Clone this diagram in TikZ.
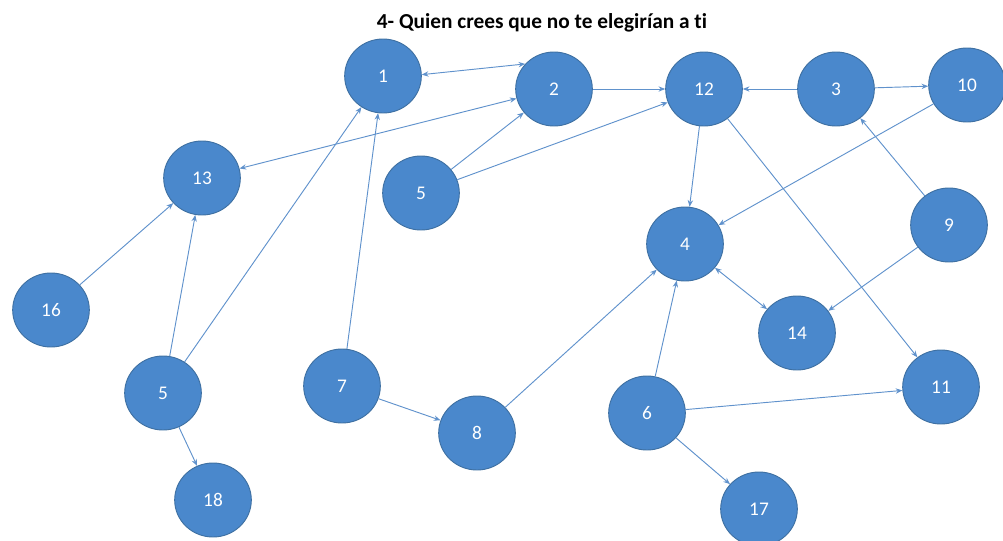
\documentclass[tikz,border=0pt]{standalone}
\usepackage{fontspec}
\setmainfont{Carlito}[RawFeature=-liga]
\usetikzlibrary{shapes.geometric,arrows.meta}
\definecolor{nodefill}{RGB}{74,136,204}
\definecolor{nodeborder}{RGB}{62,112,162}
\definecolor{edgecol}{RGB}{96,146,204}
\tikzset{
  vertex/.style={ellipse, fill=nodefill, draw=nodeborder, line width=0.7pt,
    minimum width=57.5pt, minimum height=55.5pt, inner sep=0pt,
    text=white, font=\fontsize{14.5}{14.5}\selectfont},
  link/.style={draw=edgecol, line width=0.7pt, -{Stealth[length=5pt,width=4pt]}},
  dlink/.style={draw=edgecol, line width=0.7pt, {Stealth[length=5pt,width=4pt]}-{Stealth[length=5pt,width=4pt]}},
  heading/.style={font=\fontsize{16}{16}\selectfont\bfseries, text=black, inner sep=0pt}
}
\begin{document}
\begin{tikzpicture}[x=0.75pt,y=-0.75pt]
\useasboundingbox (0,0) rectangle (1003,540);
\node[heading, anchor=base] (title) at (542,28) {4- Quien crees que no te elegirían a ti};
\node[vertex] (n1) at (383,76) {1};
\node[vertex] (n2) at (554,89) {2};
\node[vertex] (n12) at (704,89) {12};
\node[vertex] (n3) at (836,89) {3};
\node[vertex] (n10) at (967,85) {10};
\node[vertex] (n13) at (202,178) {13};
\node[vertex] (n5a) at (421,193) {5};
\node[vertex] (n4) at (685,244) {4};
\node[vertex] (n9) at (949,225) {9};
\node[vertex] (n16) at (51,310) {16};
\node[vertex] (n14) at (797,333) {14};
\node[vertex] (n5b) at (163,393) {5};
\node[vertex] (n7) at (342,386) {7};
\node[vertex] (n8) at (477,433) {8};
\node[vertex] (n6) at (647,413) {6};
\node[vertex] (n11) at (941,387) {11};
\node[vertex] (n18) at (213,500) {18};
\node[vertex] (n17) at (759,509) {17};
\draw[dlink] (n1.2) -- (n2.139);
\draw[dlink] (n13) -- (n2);
\draw[link] (n2) -- (n12);
\draw[link] (n5a) -- (n2);
\draw[link] (n5a) -- (n12);
\draw[link] (n3) -- (n12);
\draw[link] (n3) -- (n10);
\draw[link] (n12) -- (n4);
\draw[link] (n10) -- (n4);
\draw[link] (n9) -- (n3);
\draw[link] (n12) -- (n11);
\draw[link] (n9) -- (n14);
\draw[dlink] (n4) -- (n14);
\draw[link] (n6) -- (n4);
\draw[link] (n8) -- (n4);
\draw[link] (n7) -- (n8);
\draw[link] (n7) -- (n1);
\draw[link] (n5b) -- (n1);
\draw[link] (n5b) -- (n13);
\draw[link] (n16) -- (n13);
\draw[link] (n5b) -- (n18);
\draw[link] (n6) -- (n11);
\draw[link] (n6) -- (n17);
\end{tikzpicture}
\end{document}
